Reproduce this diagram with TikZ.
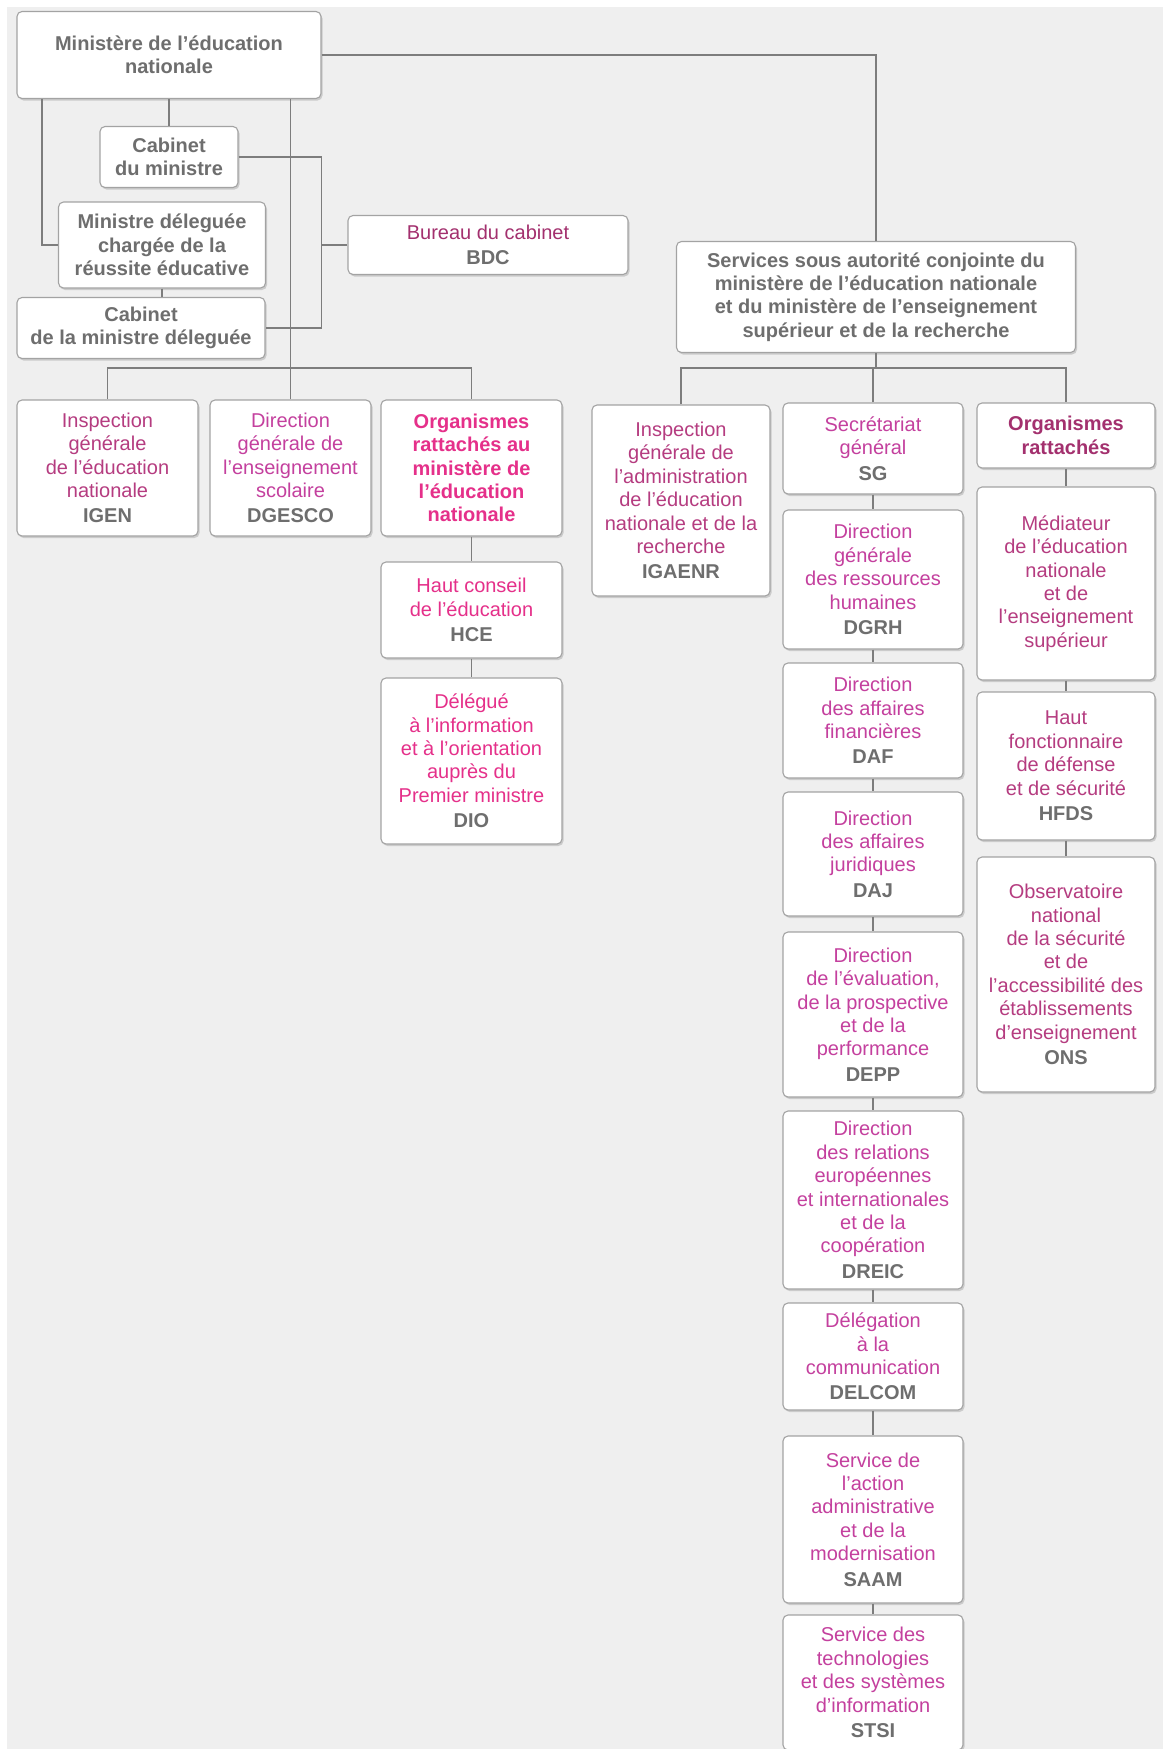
\documentclass[tikz,border=0pt]{standalone}
\usepackage{fontspec}
\setmainfont{Liberation Sans}
\usepackage{tikz}
\usetikzlibrary{shapes, positioning, shadows}
\definecolor{bgg}{HTML}{EFEFEF}
\definecolor{boxline}{HTML}{A3A3A3}
\definecolor{wire}{HTML}{7D7D7D}
\definecolor{txtgrey}{HTML}{6E6E6E}
\definecolor{plum}{HTML}{A3306E}
\definecolor{rose}{HTML}{E5308A}
\definecolor{mauve}{HTML}{B53C80}
\definecolor{orchid}{HTML}{C4409E}
\newcommand{\boxfont}{\fontsize{20}{23.4}\selectfont}
\newcommand{\sigle}[1]{{\color{txtgrey}\bfseries #1}}
\tikzstyle{every node}=[font=\boxfont]
\tikzstyle{unit}=[draw=boxline,line width=1.1pt,fill=white,rectangle,rounded corners=5pt,align=center,inner sep=2pt,drop shadow={shadow xshift=1.5pt,shadow yshift=-2pt,opacity=0.15,fill=black}]
\tikzstyle{head}=[unit,text=txtgrey,font=\boxfont\bfseries]
\tikzstyle{colL}=[unit,minimum width=181pt]
\tikzstyle{colM}=[unit,minimum width=180pt]
\tikzstyle{colR}=[unit,minimum width=178pt]
\tikzstyle{wireline}=[draw=wire,line width=1.5pt]

\begin{document}
\begin{tikzpicture}
    \useasboundingbox (0,0) rectangle (1163pt,-1749pt);
    \fill[bgg] (7pt,-7pt) rectangle (1163pt,-1749pt);
    % ministre et cabinets
    \node[head, minimum width=304pt, minimum height=87pt] (min) at (169pt,-55pt) {Ministère de l’éducation\\nationale};
    \node[head, below of=min, node distance=102pt, minimum width=138pt, minimum height=61pt] (cab) {Cabinet\\du ministre};
    \node[head, below of=cab, node distance=88pt, xshift=-7pt, minimum width=207pt, minimum height=86pt] (mdel) {Ministre déleguée\\chargée de la\\réussite éducative};
    \node[head, below of=mdel, node distance=83pt, xshift=-21pt, minimum width=248pt, minimum height=61pt] (cabd) {Cabinet\\de la ministre déleguée};
    \node[unit, right of=mdel, node distance=326pt, minimum width=280pt, minimum height=59pt] (bdc) {{\color{plum}Bureau du cabinet}\\[2pt]\sigle{BDC}};
    \node[head, minimum width=399pt, minimum height=111pt] (serv) at (876pt,-297pt) {Services sous autorité conjointe du\\ministère de l’éducation nationale\\et du ministère de l’enseignement\\supérieur et de la recherche};
    \coordinate (lx) at (42pt,0);
    \coordinate (bus) at (0,-368pt);
    % directions du ministere
    \node[colL, text=mauve, minimum height=136pt] (igen) at (107.5pt,-468pt) {Inspection\\générale\\de l’éducation\\nationale\\[2pt]\sigle{IGEN}};
    \node[unit, text=orchid, right of=igen, node distance=183pt, minimum width=161pt, minimum height=136pt] (dges) {Direction\\générale de\\l’enseignement\\scolaire\\[2pt]\sigle{DGESCO}};
    \node[colL, text=rose, font=\boxfont\bfseries, right of=dges, node distance=181pt, minimum height=136pt] (org) {Organismes\\rattachés au\\ministère de\\l’éducation\\nationale};
    \node[colL, text=rose, below of=org, node distance=142pt, minimum height=96pt] (hce) {Haut conseil\\de l’éducation\\[2pt]\sigle{HCE}};
    \node[colL, text=rose, below of=hce, node distance=151pt, minimum height=166pt] (dio) {Délégué\\à l’information\\et à l’orientation\\auprès du\\Premier ministre\\[2pt]\sigle{DIO}};
    % services conjoints
    \node[colM, text=orchid, below of=serv, node distance=151.5pt, xshift=-3pt, minimum height=91pt] (sg) {Secrétariat\\général\\[2pt]\sigle{SG}};
    \node[colR, text=mauve, left of=sg, node distance=192pt, yshift=-52pt, minimum height=191pt] (igaenr) {Inspection\\générale de\\l’administration\\de l’éducation\\nationale et de la\\recherche\\[2pt]\sigle{IGAENR}};
    \node[colR, text=plum, font=\boxfont\bfseries, right of=sg, node distance=193pt, yshift=13pt, minimum height=65pt] (orgr) {Organismes\\rattachés};
    \node[colM, text=orchid, below of=sg, node distance=131pt, minimum height=139pt] (dgrh) {Direction\\générale\\des ressources\\humaines\\[2pt]\sigle{DGRH}};
    \node[colM, text=orchid, below of=dgrh, node distance=141pt, minimum height=115pt] (daf) {Direction\\des affaires\\financières\\[2pt]\sigle{DAF}};
    \node[colM, text=orchid, below of=daf, node distance=133.5pt, minimum height=124pt] (daj) {Direction\\des affaires\\juridiques\\[2pt]\sigle{DAJ}};
    \node[colM, text=orchid, below of=daj, node distance=160.5pt, minimum height=165pt] (depp) {Direction\\de l’évaluation,\\de la prospective\\et de la\\performance\\[2pt]\sigle{DEPP}};
    \node[colM, text=orchid, below of=depp, node distance=185.5pt, minimum height=178pt] (dreic) {Direction\\des relations\\européennes\\et internationales\\et de la\\coopération\\[2pt]\sigle{DREIC}};
    \node[colM, text=orchid, below of=dreic, node distance=156.5pt, minimum height=107pt] (delcom) {Délégation\\à la\\communication\\[2pt]\sigle{DELCOM}};
    \node[colM, text=orchid, below of=delcom, node distance=163pt, minimum height=167pt] (saam) {Service de\\l’action\\administrative\\et de la\\modernisation\\[2pt]\sigle{SAAM}};
    \node[colM, text=orchid, below of=saam, node distance=163pt, minimum height=135pt] (stsi) {Service des\\technologies\\et des systèmes\\d’information\\[2pt]\sigle{STSI}};
    \node[colR, text=mauve, below of=orgr, node distance=148pt, minimum height=193pt] (med) {Médiateur\\de l’éducation\\nationale\\et de\\l’enseignement\\supérieur};
    \node[colR, text=mauve, below of=med, node distance=182.5pt, minimum height=148pt] (hfds) {Haut\\fonctionnaire\\de défense\\et de sécurité\\[2pt]\sigle{HFDS}};
    \node[colR, text=mauve, below of=hfds, node distance=208.5pt, minimum height=235pt] (ons) {Observatoire\\national\\de la sécurité\\et de\\l’accessibilité des\\établissements\\d’enseignement\\[2pt]\sigle{ONS}};
    % liens
    \draw[wireline] (min.east) -| (serv.north);
    \draw[wireline] (mdel.west) -| (lx |- min.south);
    \draw[wireline] (cab.north) -- (cab.north |- min.south);
    \draw[wireline] (mdel.south) -- (mdel.south |- cabd.north);
    \draw[wireline] (cab.east) -- (cab.east -| min.east) |- (cabd.east);
    \draw[wireline] (bdc.west) -- (bdc.west -| min.east);
    \draw[wireline] (dges.north) -- (dges.north |- min.south);
    \draw[wireline] (igen.north) -- (igen.north |- bus) -- (org.north |- bus) -- (org.north);
    \draw[wireline] (org) -- (hce);
    \draw[wireline] (hce) -- (dio);
    \draw[wireline] (serv.south) -- (serv.south |- bus);
    \draw[wireline] (igaenr.north) -- (igaenr.north |- bus) -- (orgr.north |- bus) -- (orgr.north);
    \draw[wireline] (sg.north) -- (sg.north |- bus);
    \draw[wireline] (sg) -- (dgrh);
    \draw[wireline] (dgrh) -- (daf);
    \draw[wireline] (daf) -- (daj);
    \draw[wireline] (daj) -- (depp);
    \draw[wireline] (depp) -- (dreic);
    \draw[wireline] (dreic) -- (delcom);
    \draw[wireline] (delcom) -- (saam);
    \draw[wireline] (saam) -- (stsi);
    \draw[wireline] (orgr) -- (med);
    \draw[wireline] (med) -- (hfds);
    \draw[wireline] (hfds) -- (ons);
\end{tikzpicture}
\end{document}
